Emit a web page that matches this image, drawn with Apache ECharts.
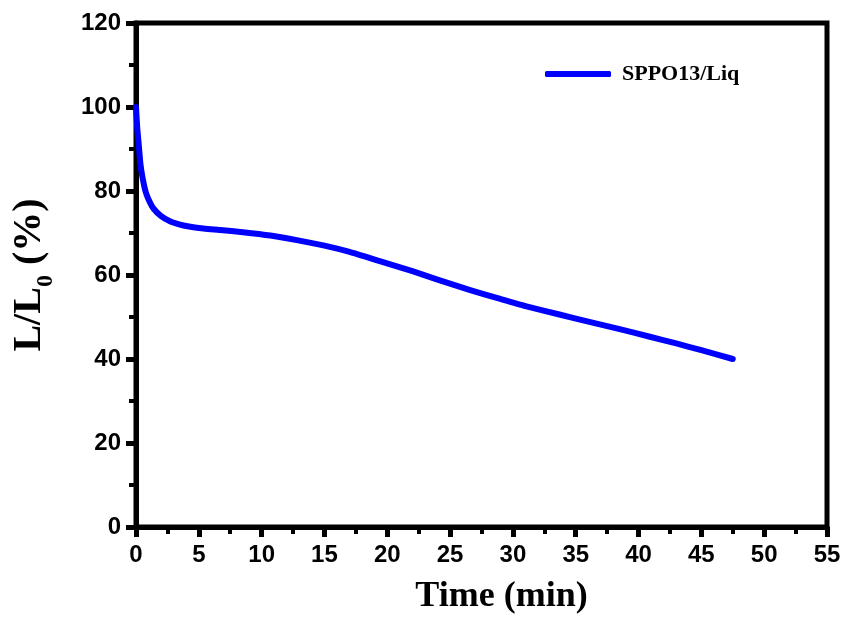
<!DOCTYPE html>
<html>
<head>
<meta charset="utf-8">
<script src="https://cdn.jsdelivr.net/npm/echarts@6/dist/echarts.min.js"></script>
<style>html,body{margin:0;padding:0;background:#fff}#c{width:848px;height:621px}</style>
</head>
<body>
<div id="c"></div>
<script>
const timeMin = [0, 0.1, 0.22, 0.35, 0.5, 0.75, 1, 1.4, 2, 2.7, 3.5, 4.1, 5, 6.7, 8.5, 10.7, 12.8, 15, 17, 19.4, 22, 24, 26.6, 29, 31, 33.7, 36, 38.5, 40.9, 43, 45, 47.5];
const lumPct  = [100, 95, 91, 86.5, 83.5, 80, 78, 75.8, 74, 72.8, 72, 71.6, 71.2, 70.7, 70.2, 69.4, 68.3, 67, 65.5, 63.3, 60.9, 58.9, 56.4, 54.3, 52.6, 50.6, 48.9, 47.1, 45.3, 43.7, 42.1, 40];
const seriesName = 'SPPO13/Liq';
const xTitle = 'Time (min)';

const pts = timeMin.map((t, i) => [t, lumPct[i]]);
const chart = echarts.init(document.getElementById('c'));
const tickFont = {fontFamily: 'Liberation Sans, Arial', fontWeight: 'bold', fontSize: 24, color: '#000'};
chart.setOption({
  animation: false,
  backgroundColor: '#fff',
  grid: {left: 136, right: 21, top: 23, bottom: 94, show: true, borderColor: '#000', borderWidth: 5, backgroundColor: 'transparent'},
  legend: {
    show: true, left: 540, top: 58, itemWidth: 66, itemHeight: 6, itemGap: 10,
    icon: 'roundRect',
    textStyle: {fontFamily: 'Liberation Serif, Times New Roman', fontWeight: 'bold', fontSize: 22, color: '#000', padding: [0, 0, 0, 6]},
    data: [{name: seriesName, itemStyle: {color: '#0000ff'}}]
  },
  xAxis: {
    type: 'value', min: 0, max: 55, interval: 5,
    name: xTitle, nameLocation: 'middle', nameGap: 52,
    nameTextStyle: {fontFamily: 'Liberation Serif, Times New Roman', fontWeight: 'bold', fontSize: 36, color: '#000', padding: [0, 0, 0, 40]},
    axisLine: {show: true, onZero: false, lineStyle: {color: '#000', width: 5}},
    axisTick: {show: true, inside: false, length: 10, lineStyle: {color: '#000', width: 5}},
    minorTick: {show: true, splitNumber: 2, length: 7, lineStyle: {color: '#000', width: 4}},
    axisLabel: Object.assign({margin: 16}, tickFont),
    splitLine: {show: false}
  },
  yAxis: {
    type: 'value', min: 0, max: 120, interval: 20,
    name: '{a|L/L}{s|0}{a| (%)}', nameLocation: 'middle', nameGap: 86, nameRotate: 90,
    nameTextStyle: {
      rich: {
        a: {fontFamily: 'Liberation Serif, Times New Roman', fontWeight: 'bold', fontSize: 40, color: '#000', lineHeight: 44, verticalAlign: 'bottom'},
        s: {fontFamily: 'Liberation Serif, Times New Roman', fontWeight: 'bold', fontSize: 24, color: '#000', lineHeight: 44, verticalAlign: 'bottom', padding: [0, 0, -8, 0]}
      }
    },
    axisLine: {show: true, onZero: false, lineStyle: {color: '#000', width: 5}},
    axisTick: {show: true, inside: false, length: 10, lineStyle: {color: '#000', width: 5}},
    minorTick: {show: true, splitNumber: 2, length: 7, lineStyle: {color: '#000', width: 4}},
    axisLabel: Object.assign({margin: 15}, tickFont),
    splitLine: {show: false}
  },
  series: [{
    name: seriesName, type: 'line', data: pts, smooth: 0.2, showSymbol: false,
    lineStyle: {color: '#0000ff', width: 6, cap: 'round', join: 'round'},
    itemStyle: {color: '#0000ff'}, z: 1
  }]
});
</script>
</body>
</html>
